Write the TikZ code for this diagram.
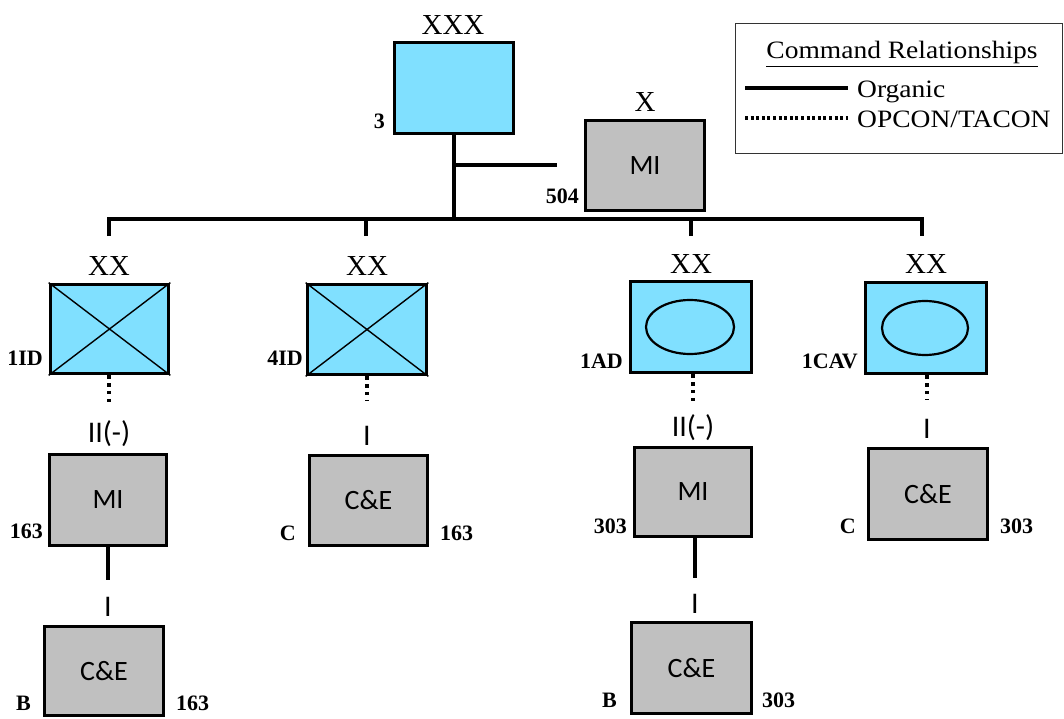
\documentclass[tikz,border=0pt]{standalone}
\usepackage{fontspec}
\usepackage{graphicx}
\newfontfamily\tms{Liberation Serif}
\newfontfamily\carl{Carlito}
\definecolor{unitblue}{RGB}{128,224,255}
\definecolor{unitgray}{RGB}{192,192,192}
\begin{document}
\begin{tikzpicture}[x=1pt,y=-1pt,
  unit/.style={draw=black, line width=3.7pt, inner sep=0pt,
    minimum width=119pt, minimum height=90pt},
  blueunit/.style={unit, fill=unitblue},
  grayunit/.style={unit, fill=unitgray, font=\carl\fontsize{28}{30}\selectfont},
  conn/.style={line width=3.3pt},
  dotconn/.style={line width=3.4pt, dash pattern=on 3.4pt off 4.4pt},
  thin cross/.style={line width=1.4pt},
  oval/.style={line width=2.2pt},
  ech/.style={anchor=base, inner sep=0pt, font=\tms\fontsize{29}{30}\selectfont},
  sub/.style={anchor=base, inner sep=0pt, font=\carl\fontsize{30}{32}\selectfont},
  num/.style={inner sep=0pt, font=\tms\bfseries\fontsize{22}{24}\selectfont},
  numL/.style={num, anchor=base east},
  numR/.style={num, anchor=base west},
  legtext/.style={inner sep=0pt, font=\tms\fontsize{25}{27}\selectfont}
]
\useasboundingbox (0,0) rectangle (1064,719);

% ---- corps and attached brigade ----
\node[blueunit, minimum width=119pt, minimum height=91pt] (corps) at (454,88) {};
\node[ech] at (453,35) {XXX};
\node[numL] at (385,129) {3};

\node[grayunit] (mi504) at (645,165.5) {MI};
\node[ech] at (645,112) {X};
\node[numL] at (579,204) {504};

% ---- divisions ----
\node[blueunit, minimum width=118pt, minimum height=89pt] (id1) at (109.5,329) {};
\node[blueunit] (id4) at (367,329.5) {};
\node[blueunit, minimum width=121pt, minimum height=91pt] (ad1) at (691,327) {};
\node[blueunit, minimum width=121pt, minimum height=91pt] (cav1) at (926,328) {};

\draw[thin cross] (id1.north west) -- (id1.south east) (id1.south west) -- (id1.north east);
\draw[thin cross] (id4.north west) -- (id4.south east) (id4.south west) -- (id4.north east);
\draw[oval] (690,327) ellipse [x radius=44, y radius=27];
\draw[oval] (925,328) ellipse [x radius=43, y radius=27];

\node[ech] at (109,275) {XX};
\node[ech] at (367,275) {XX};
\node[ech] at (691,273) {XX};
\node[ech] at (926,273) {XX};

\node[numL] at (43,365) {1ID};
\node[numL] at (303,365) {4ID};
\node[numL] at (623,368) {1AD};
\node[numL] at (858,368) {1CAV};

% ---- battalions and companies ----
\node[grayunit, minimum width=117pt, minimum height=91pt] (mi163) at (108,500) {MI};
\node[grayunit, minimum width=118pt] (ce163c) at (368.5,500.5) {C\&E};
\node[grayunit, minimum width=117pt, minimum height=89pt] (mi303) at (693,492) {MI};
\node[grayunit, minimum height=91pt] (ce303c) at (928,494) {C\&E};
\node[grayunit, minimum height=89pt] (ce163b) at (104,671) {C\&E};
\node[grayunit, minimum width=120pt, minimum height=91pt] (ce303b) at (691.5,668) {C\&E};

\node[sub] at (109,442) {II(-)};
\node[sub] at (693,436) {II(-)};
\node[sub] at (367,445) {I};
\node[sub] at (927,438) {I};
\node[sub] at (108,616) {I};
\node[sub] at (695,613) {I};

\node[numL] at (43,538) {163};
\node[numL] at (296,540) {C};
\node[numR] at (440,540) {163};
\node[numL] at (627,533) {303};
\node[numL] at (856,533) {C};
\node[numR] at (1000,533) {303};
\node[numL] at (31,710) {B};
\node[numR] at (176,710) {163};
\node[numL] at (617,707) {B};
\node[numR] at (762,707) {303};

% ---- organic connectors ----
\coordinate (busA) at (109,219);
\coordinate (busD) at (922,219);
\coordinate (dropA) at (109,236);
\coordinate (dropB) at (366,236);
\coordinate (dropC) at (691,236);
\coordinate (dropD) at (922,236);
\coordinate (branch) at (557,165);

\draw[conn] (corps.south) -- (corps.south |- busA);
\draw[conn] (dropA) -- (busA) -- (busD) -- (dropD);
\draw[conn] (dropB) -- (dropB |- busA);
\draw[conn] (dropC) -- (dropC |- busA);
\draw[conn] (corps.south |- branch) -- (branch);

\coordinate (mi163end) at (108,580);
\coordinate (mi303end) at (695,578);
\draw[conn] (mi163.south -| mi163end) -- (mi163end);
\draw[conn] (mi303.south -| mi303end) -- (mi303end);

% ---- OPCON/TACON connectors ----
\coordinate (id1end) at (109,406);
\coordinate (id4end) at (367,400);
\coordinate (ad1end) at (693,405);
\coordinate (cav1end) at (927,400);
\draw[dotconn] (id1.south -| id1end) -- (id1end);
\draw[dotconn] (id4.south -| id4end) -- (id4end);
\draw[dotconn] (ad1.south -| ad1end) -- (ad1end);
\draw[dotconn] (cav1.south -| cav1end) -- (cav1end);

% ---- legend ----
\node[draw=black!80, line width=1.2pt, minimum width=327pt, minimum height=130pt,
  inner sep=0pt, anchor=north west] (legend) at (735,23) {};
\node[legtext, anchor=base] at (902,59) {\scalebox{1.1}[1]{\underline{Command Relationships}}};
\coordinate (solidA) at (745,88);
\coordinate (solidB) at (848,88);
\coordinate (dotA) at (745,118);
\coordinate (dotB) at (848,118);
\draw[line width=3.2pt] (solidA) -- (solidB);
\draw[line width=3.2pt, dash pattern=on 3pt off 2.6pt] (dotA) -- (dotB);
\node[legtext, anchor=base west] at (857,98) {\scalebox{1.1}[1]{Organic}};
\node[legtext, anchor=base west] at (857,128) {\scalebox{1.1}[1]{OPCON/TACON}};
\end{tikzpicture}
\end{document}
